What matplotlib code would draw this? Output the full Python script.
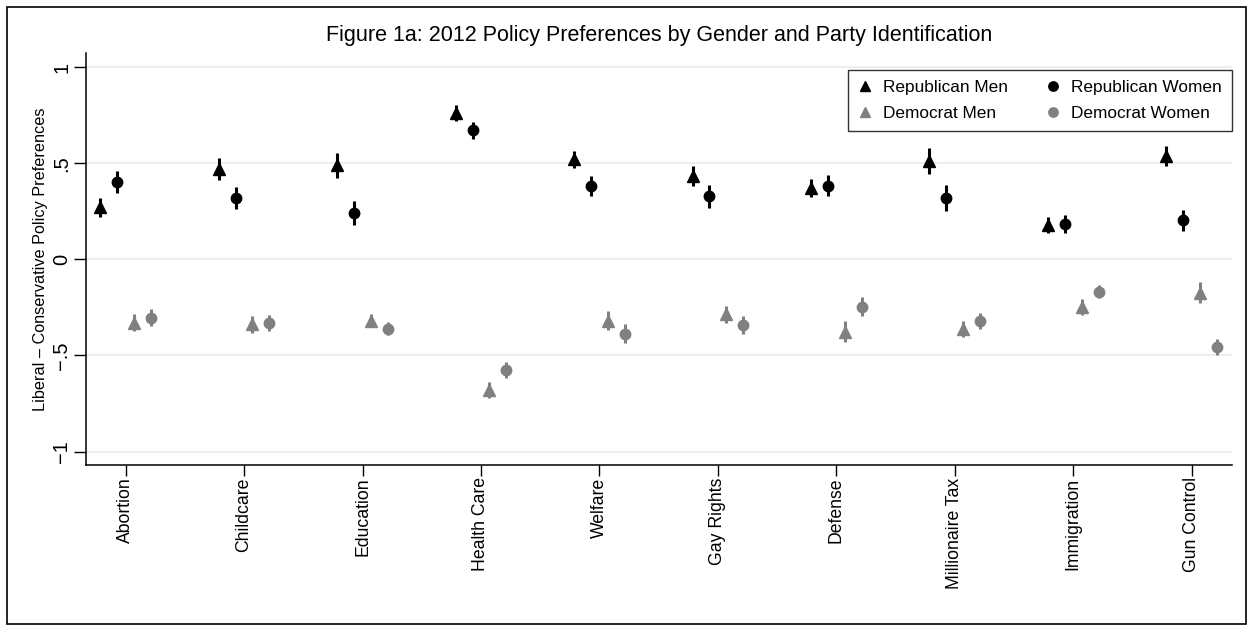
import numpy as np
import matplotlib
matplotlib.use("Agg")
import matplotlib.pyplot as plt
from matplotlib.patches import Rectangle

plt.rcParams['font.family'] = ['Liberation Sans', 'DejaVu Sans']

issues = ["Abortion", "Childcare", "Education", "Health Care", "Welfare",
          "Gay Rights", "Defense", "Millionaire Tax", "Immigration", "Gun Control"]

rep_men = [0.27, 0.47, 0.49, 0.76, 0.52, 0.435, 0.37, 0.51, 0.18, 0.535]
rep_men_err = [0.05, 0.055, 0.065, 0.043, 0.044, 0.052, 0.047, 0.068, 0.041, 0.052]
rep_women = [0.40, 0.32, 0.24, 0.67, 0.38, 0.327, 0.383, 0.32, 0.183, 0.202]
rep_women_err = [0.057, 0.057, 0.062, 0.046, 0.052, 0.059, 0.056, 0.069, 0.048, 0.055]
dem_men = [-0.33, -0.338, -0.319, -0.68, -0.319, -0.286, -0.376, -0.364, -0.246, -0.173]
dem_men_err = [0.044, 0.045, 0.035, 0.04, 0.051, 0.045, 0.056, 0.042, 0.042, 0.055]
dem_women = [-0.303, -0.332, -0.36, -0.575, -0.388, -0.341, -0.246, -0.32, -0.168, -0.457]
dem_women_err = [0.043, 0.043, 0.035, 0.04, 0.05, 0.045, 0.049, 0.042, 0.033, 0.043]

GRAY = '#808080'

fig = plt.figure(figsize=(12.51, 6.26), dpi=100)
ax = fig.add_axes([0.0687, 0.2572, 0.9161, 0.6581])

x = np.arange(1, len(issues) + 1)
series = [
    (rep_men, rep_men_err, -0.214, '^', 'black', 'Republican Men'),
    (dem_men, dem_men_err, 0.071, '^', GRAY, 'Democrat Men'),
    (rep_women, rep_women_err, -0.071, 'o', 'black', 'Republican Women'),
    (dem_women, dem_women_err, 0.214, 'o', GRAY, 'Democrat Women'),
]
handles = []
for vals, errs, off, mk, col, lab in series:
    ax.errorbar(x + off, vals, yerr=errs, fmt='none', ecolor=col, elinewidth=2.2, capsize=0, zorder=2)
    h, = ax.plot(x + off, vals, linestyle='none', marker=mk, color=col,
                 markersize=8 if mk == '^' else 7.5, label=lab, zorder=3)
    handles.append(h)

ax.set_xlim(0.665, 10.34)
ax.set_ylim(-1.07, 1.073)
ax.set_yticks([-1, -0.5, 0, 0.5, 1])
ax.set_yticklabels(['\u22121', '\u2212.5', '0', '.5', '1'], rotation=90, va='center', fontsize=14.5)
ax.set_xticks(x)
ax.set_xticklabels(issues, rotation=90, fontsize=12.7)
ax.tick_params(axis='y', length=9, width=1, pad=1.5)
ax.tick_params(axis='x', length=8, width=1, pad=1)
ax.grid(axis='y', color='#e8eff1', linewidth=1.3)
ax.set_axisbelow(True)
for s in ['top', 'right']:
    ax.spines[s].set_visible(False)
for s in ['left', 'bottom']:
    ax.spines[s].set_linewidth(1.1)

ax.set_ylabel('Liberal \u2013 Conservative Policy Preferences', fontsize=11.7, labelpad=3)

leg = ax.legend(handles=handles, ncol=2, loc='upper right', bbox_to_anchor=(1.0, 0.959),
                borderaxespad=0, fontsize=12.4, frameon=True, fancybox=False, edgecolor='black',
                markerscale=0.9, handlelength=0.8, handletextpad=0.65, columnspacing=2.2,
                borderpad=0.6, labelspacing=0.6)
leg.get_frame().set_linewidth(1.0)

fig.text(0.527, 0.944, 'Figure 1a: 2012 Policy Preferences by Gender and Party Identification',
         ha='center', va='center', fontsize=15.5)

fig.patches.append(Rectangle((0.0056, 0.003), 0.9904, 0.986, transform=fig.transFigure,
                             fill=False, edgecolor='black', linewidth=1.2))

fig.savefig('out.png', dpi=100)
plt.close()
